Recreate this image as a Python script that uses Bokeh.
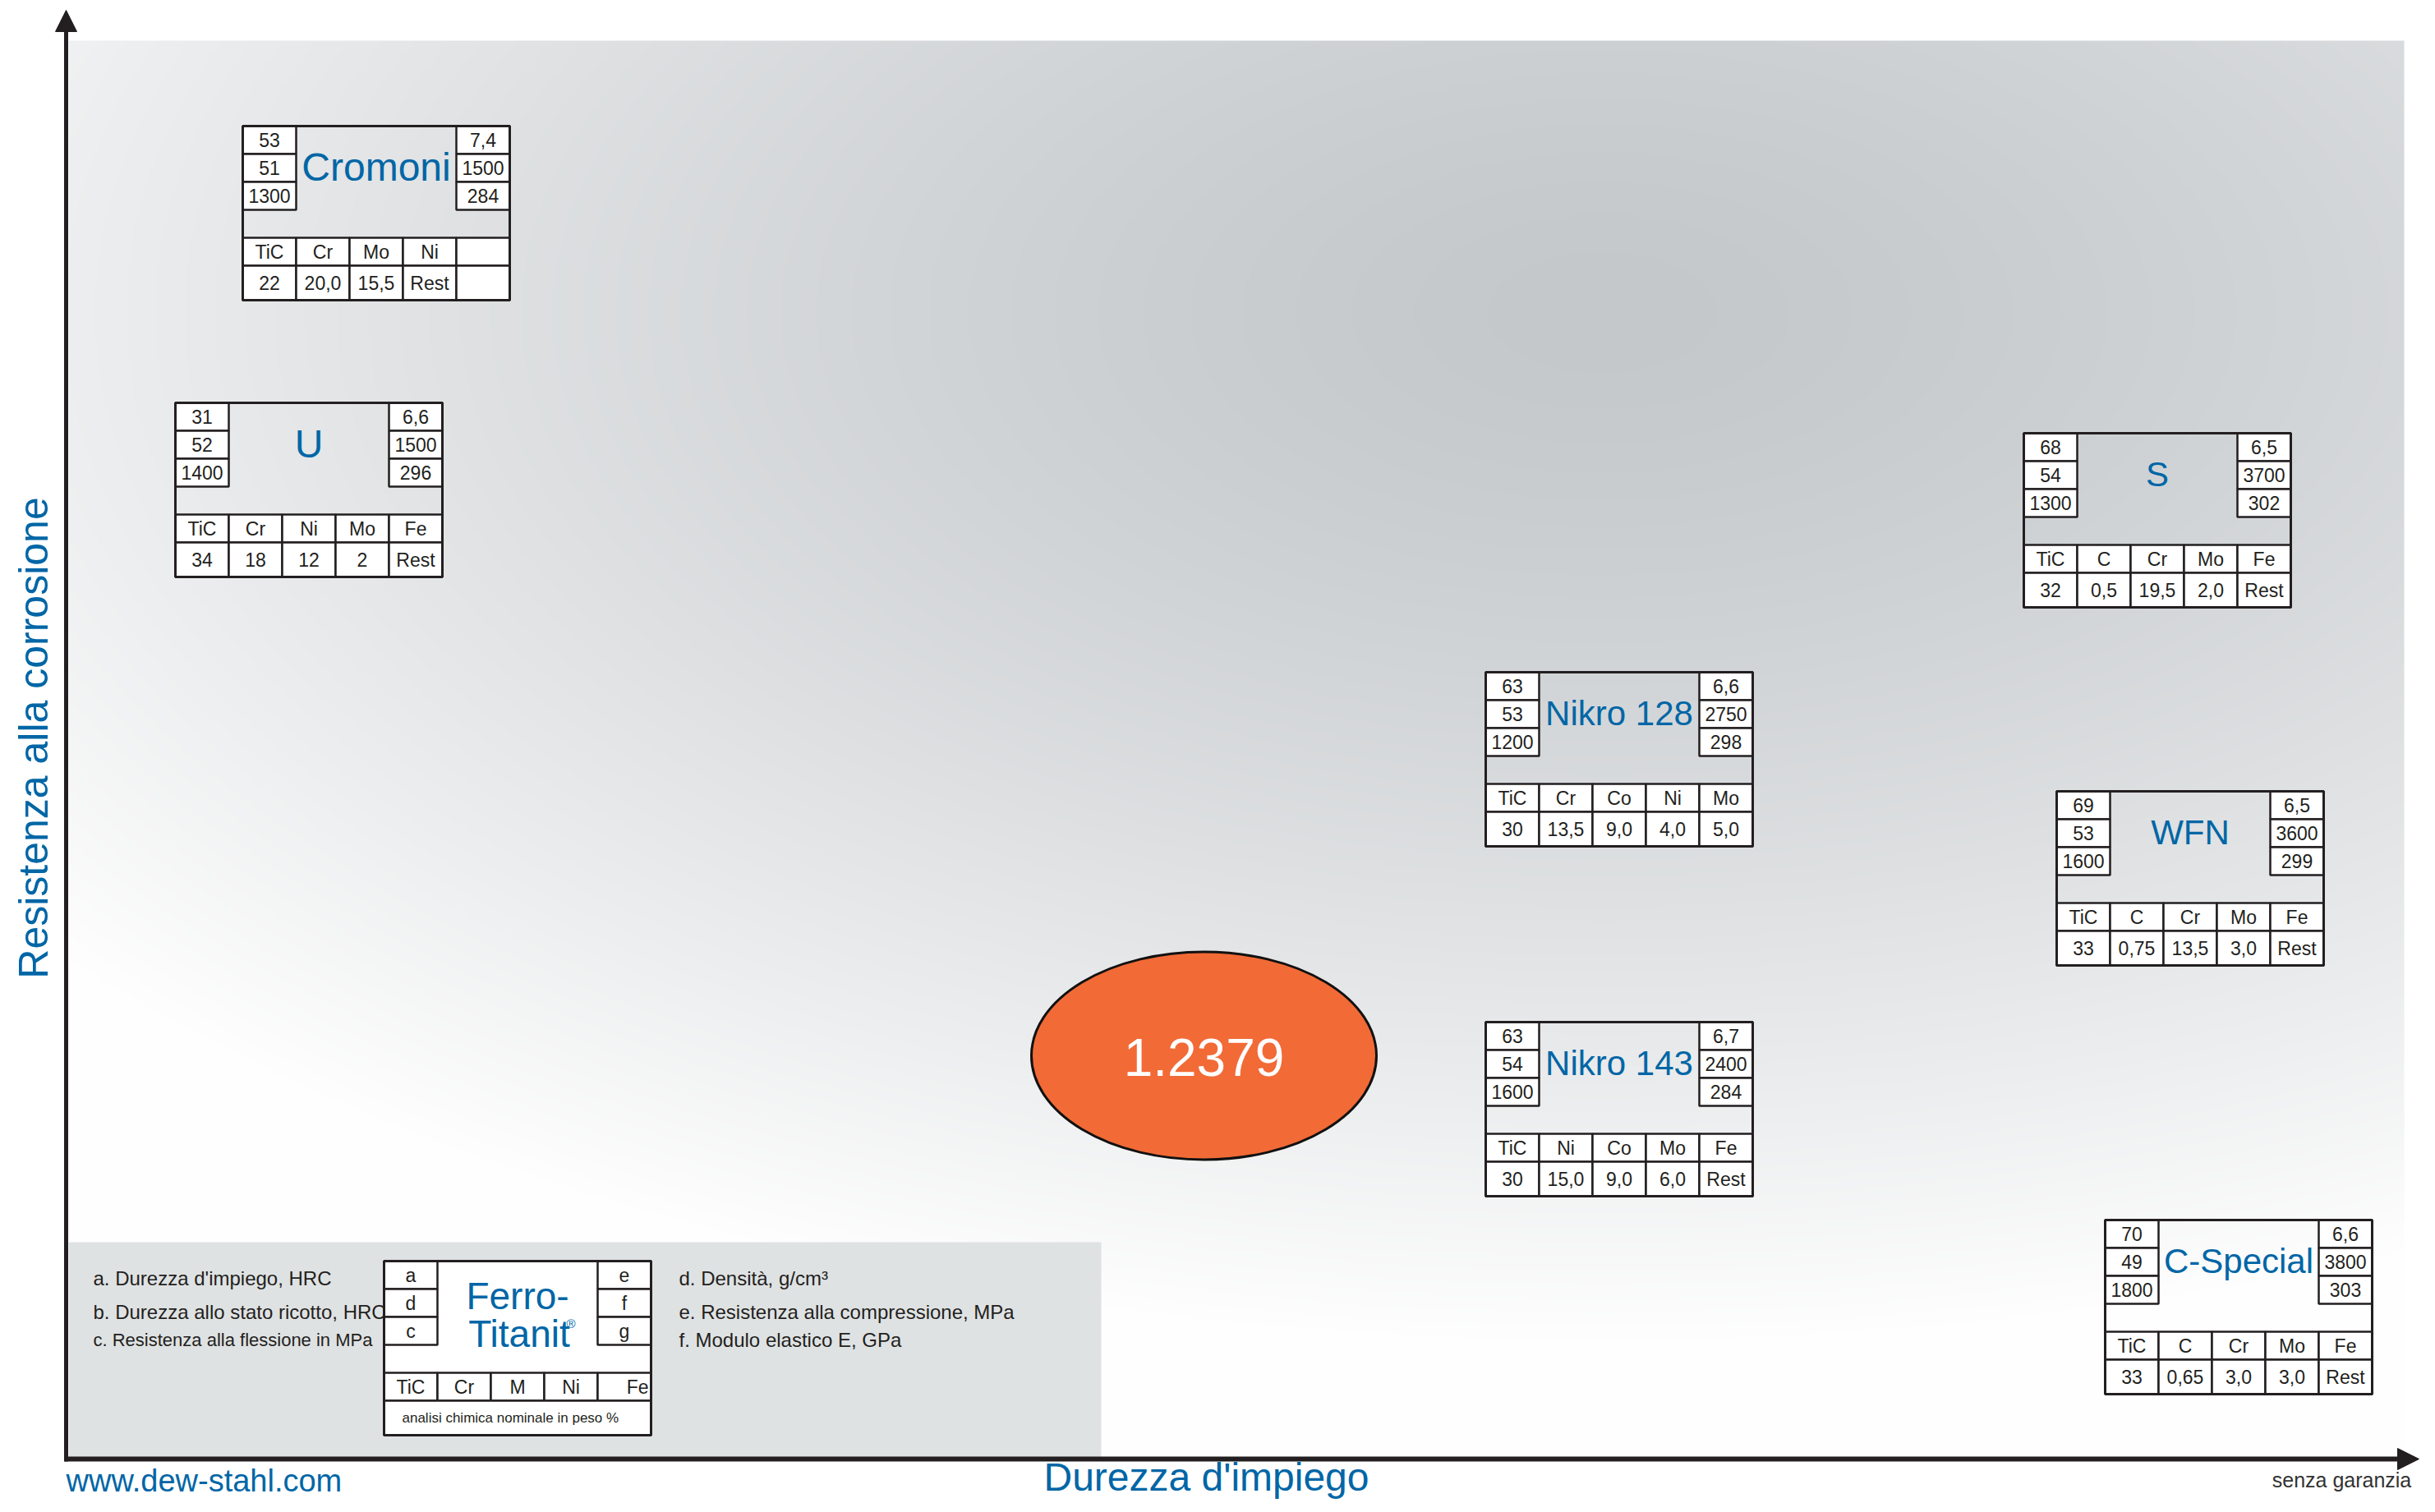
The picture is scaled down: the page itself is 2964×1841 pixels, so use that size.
import numpy as np
from bokeh.plotting import figure
from bokeh.models import Range1d, ColumnDataSource, Arrow, NormalHead
from bokeh.embed import file_html
from bokeh.resources import INLINE
from bokeh.core.properties import value

# ---------------- data ----------------
materials = ["Cromoni", "U", "S", "Nikro 128", "Nikro 143", "WFN", "C-Special"]
hrc_use = [53, 31, 68, 63, 63, 69, 70]            # a
hrc_annealed = [51, 52, 54, 53, 54, 53, 49]       # b
flex_mpa = [1300, 1400, 1300, 1200, 1600, 1600, 1800]   # c
density = ["7,4", "6,6", "6,5", "6,6", "6,7", "6,5", "6,6"]  # d
compress_mpa = [1500, 1500, 3700, 2750, 2400, 3600, 3800]  # e
modulus_gpa = [284, 296, 302, 298, 284, 299, 303]  # f
elements = [
    ["TiC", "Cr", "Mo", "Ni", ""],
    ["TiC", "Cr", "Ni", "Mo", "Fe"],
    ["TiC", "C", "Cr", "Mo", "Fe"],
    ["TiC", "Cr", "Co", "Ni", "Mo"],
    ["TiC", "Ni", "Co", "Mo", "Fe"],
    ["TiC", "C", "Cr", "Mo", "Fe"],
    ["TiC", "C", "Cr", "Mo", "Fe"],
]
amounts = [
    ["22", "20,0", "15,5", "Rest", ""],
    ["34", "18", "12", "2", "Rest"],
    ["32", "0,5", "19,5", "2,0", "Rest"],
    ["30", "13,5", "9,0", "4,0", "5,0"],
    ["30", "15,0", "9,0", "6,0", "Rest"],
    ["33", "0,75", "13,5", "3,0", "Rest"],
    ["33", "0,65", "3,0", "3,0", "Rest"],
]
# placement of each grade on the (hardness, corrosion resistance) map
pos_x = [295, 213, 2463, 1808, 1808, 2503, 2562]
pos_y = [153, 490, 527, 818, 1244, 963, 1485]
name_size = ["48px", "48px", "42px", "42px", "42px", "42px", "42px"]

ref_label = "1.2379"
ref_x, ref_y = 1465, 1285

legend_left = ["a. Durezza d'impiego, HRC", "b.  Durezza allo stato ricotto, HRC",
               "c.  Resistenza alla flessione in MPa"]
legend_right = ["d. Densità, g/cm³", "e.  Resistenza alla compressione, MPa",
                "f.  Modulo elastico E, GPa"]
key_left = ["a", "d", "c"]
key_right = ["e", "f", "g"]
key_elements = ["TiC", "Cr", "M", "Ni", "Fe"]
key_x, key_y = 467, 1535

# ---------------- styling ----------------
BLUE = "#0066a6"
INK = "#231f20"
FONT = value("Liberation Sans")
BW, CW = 325, 65
ROWS = [0, 34, 68, 102, 136, 170, 212]
W, H = 2948, 1825

p = figure(width=W, height=H, x_range=Range1d(0, W), y_range=Range1d(H, 0),
           output_backend="svg", toolbar_location=None, min_border=0)
p.axis.visible = False
p.grid.visible = False
p.outline_line_color = None
p.background_fill_color = "white"
p.border_fill_color = "white"

# background radial gradient
gx0, gx1, gy0, gy1 = 83, 2926, 49, 1773
f = 4
nx = int((gx1 - gx0) / f)
ny = int((gy1 - gy0) / f)
xs = gx0 + (np.arange(nx) + 0.5) * (gx1 - gx0) / nx
ys = gy0 + (np.arange(ny) + 0.5) * (gy1 - gy0) / ny
X, Y = np.meshgrid(xs, ys)
r = np.sqrt(((X - 1950) / 2400.0) ** 2 + ((Y - 380) / 1250.0) ** 2)
t = np.clip(r, 0, 1) ** 1.4
dark = np.array([196, 200, 203])
light = np.array([254, 254, 254])
img = np.empty((ny, nx), dtype=np.uint32)
view = img.view(dtype=np.uint8).reshape((ny, nx, 4))
for k in range(3):
    view[:, :, k] = (dark[k] + (light[k] - dark[k]) * t).astype(np.uint8)
view[:, :, 3] = 255
p.image_rgba(image=[img], x=gx0, y=gy0, dw=gx1 - gx0, dh=gy1 - gy0)

# legend panel
p.quad(left=[83], right=[1340], top=[1512], bottom=[1776], fill_color="#dfe2e3", line_color=None)

# build boxes
outer = dict(l=[], r=[], t=[], b=[])
cells = dict(l=[], r=[], t=[], b=[])
ctext = dict(x=[], y=[], s=[])


def add_cell(l, r, t, b):
    cells["l"].append(l); cells["r"].append(r); cells["t"].append(t); cells["b"].append(b)


def add_text(x, y, s):
    ctext["x"].append(x); ctext["y"].append(y); ctext["s"].append(s)


def build_box(x0, y0, lv, rv, hdr, vals):
    outer["l"].append(x0); outer["r"].append(x0 + BW)
    outer["t"].append(y0); outer["b"].append(y0 + ROWS[-1])
    for k in range(3):
        add_cell(x0, x0 + CW, y0 + ROWS[k], y0 + ROWS[k + 1])
        add_text(x0 + CW / 2, y0 + (ROWS[k] + ROWS[k + 1]) / 2, lv[k])
        add_cell(x0 + BW - CW, x0 + BW, y0 + ROWS[k], y0 + ROWS[k + 1])
        add_text(x0 + BW - CW / 2, y0 + (ROWS[k] + ROWS[k + 1]) / 2, rv[k])
    for j in range(5):
        add_cell(x0 + j * CW, x0 + (j + 1) * CW, y0 + ROWS[4], y0 + ROWS[5])
        add_text(x0 + j * CW + CW / 2, y0 + (ROWS[4] + ROWS[5]) / 2, hdr[j])
        if vals is not None:
            add_cell(x0 + j * CW, x0 + (j + 1) * CW, y0 + ROWS[5], y0 + ROWS[6])
            add_text(x0 + j * CW + CW / 2, y0 + (ROWS[5] + ROWS[6]) / 2, vals[j])


for i in range(len(materials)):
    build_box(pos_x[i], pos_y[i],
              [str(hrc_use[i]), str(hrc_annealed[i]), str(flex_mpa[i])],
              [density[i], str(compress_mpa[i]), str(modulus_gpa[i])],
              elements[i], amounts[i])

# key box (white inside)
p.quad(left=[key_x], right=[key_x + BW], top=[key_y], bottom=[key_y + ROWS[-1]],
       fill_color="white", line_color=None)
build_box(key_x, key_y, key_left, key_right, ["TiC", "Cr", "M", "Ni", ""], None)
add_cell(key_x, key_x + BW, key_y + ROWS[5], key_y + ROWS[6])

p.quad(left=cells["l"], right=cells["r"], top=cells["t"], bottom=cells["b"],
       fill_color="white", line_color=INK, line_width=2.5)
p.quad(left=outer["l"], right=outer["r"], top=outer["t"], bottom=outer["b"],
       fill_color=None, line_color=INK, line_width=3)
p.text(x="x", y="y", text="s", source=ColumnDataSource(ctext), text_font=FONT,
       text_font_size="23px", text_color=INK, text_align="center", text_baseline="middle")
p.text(x=[key_x + BW - 3], y=[key_y + (ROWS[4] + ROWS[5]) / 2], text=[key_elements[4]],
       text_font=FONT, text_font_size="23px", text_color=INK, text_align="right",
       text_baseline="middle")
p.text(x=[key_x + 22], y=[key_y + (ROWS[5] + ROWS[6]) / 2], text=["analisi chimica nominale in peso %"],
       text_font=FONT, text_font_size="17px", text_color=INK, text_align="left", text_baseline="middle")

# material names
nsrc = ColumnDataSource(dict(x=[x + BW / 2 for x in pos_x], y=[y + 50 for y in pos_y],
                             s=materials, fs=name_size))
p.text(x="x", y="y", text="s", source=nsrc, text_font=FONT, text_font_size="fs",
       text_color=BLUE, text_align="center", text_baseline="middle")
p.text(x=[key_x + BW / 2, key_x + BW / 2 + 2], y=[key_y + 42, key_y + 88],
       text=["Ferro-", "Titanit"], text_font=FONT, text_font_size="46px",
       text_color=BLUE, text_align="center", text_baseline="middle")
p.text(x=[key_x + 222], y=[key_y + 76], text=["®"], text_font=FONT, text_font_size="15px",
       text_color=BLUE, text_align="left", text_baseline="middle")

# legend texts
lsrc = ColumnDataSource(dict(x=[113] * 3, y=[1556, 1597, 1631], s=legend_left,
                             fs=["24px", "24px", "22px"]))
p.text(x="x", y="y", text="s", source=lsrc, text_font=FONT,
       text_font_size="fs", text_color=INK, text_align="left", text_baseline="middle")
p.text(x=[826] * 3, y=[1556, 1597, 1631], text=legend_right, text_font=FONT,
       text_font_size="24px", text_color=INK, text_align="left", text_baseline="middle")

# reference grade ellipse
p.ellipse(x=[ref_x], y=[ref_y], width=420, height=253, fill_color="#f26a36",
          line_color="#111111", line_width=3)
p.text(x=[ref_x], y=[ref_y + 2], text=[ref_label], text_font=FONT, text_font_size="64px",
       text_color="white", text_align="center", text_baseline="middle")

# axes with arrows
p.add_layout(Arrow(end=NormalHead(size=26, fill_color=INK, line_color=INK),
                   x_start=80, y_start=1779, x_end=80, y_end=12,
                   line_color=INK, line_width=5))
p.add_layout(Arrow(end=NormalHead(size=26, fill_color=INK, line_color=INK),
                   x_start=78, y_start=1776, x_end=2944, y_end=1776,
                   line_color=INK, line_width=6))

# axis titles and footer
p.text(x=[40], y=[898], text=["Resistenza alla corrosione"], angle=np.pi / 2,
       text_font=FONT, text_font_size="50px", text_color=BLUE,
       text_align="center", text_baseline="middle")
p.text(x=[1468], y=[1798], text=["Durezza d'impiego"], text_font=FONT, text_font_size="48px",
       text_color=BLUE, text_align="center", text_baseline="middle")
p.text(x=[80], y=[1802], text=["www.dew-stahl.com"], text_font=FONT, text_font_size="38px",
       text_color=BLUE, text_align="left", text_baseline="middle")
p.text(x=[2850], y=[1801], text=["senza garanzia"], text_font=FONT, text_font_size="25px",
       text_color="#333333", text_align="center", text_baseline="middle")

open("out.html", "w").write(file_html(p, INLINE))
